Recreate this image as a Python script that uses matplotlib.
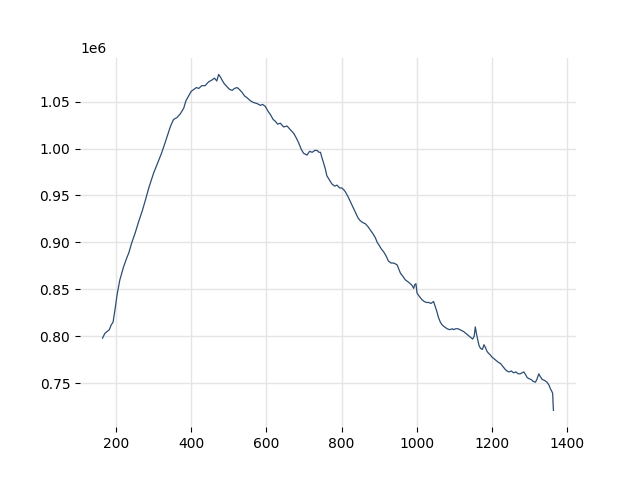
import matplotlib
matplotlib.use("Agg")
import matplotlib.pyplot as plt

# (x, y) pairs, y in units of 1e6
trace = [
    (164, 0.798), (170, 0.803), (176, 0.805), (182, 0.807), (187, 0.812),
    (192, 0.815), (197, 0.828), (203, 0.845), (210, 0.860), (220, 0.874),
    (228, 0.883), (234, 0.889), (242, 0.900), (250, 0.909), (260, 0.922),
    (270, 0.934), (278, 0.945), (287, 0.958), (300, 0.974), (313, 0.987),
    (320, 0.994), (327, 1.002), (336, 1.013), (345, 1.024), (353, 1.031),
    (362, 1.033), (371, 1.037), (380, 1.043), (386, 1.051), (393, 1.056),
    (400, 1.061), (407, 1.063), (414, 1.065), (420, 1.064), (428, 1.067),
    (437, 1.067), (446, 1.071), (455, 1.073), (462, 1.075), (468, 1.072),
    (473, 1.079), (478, 1.076), (482, 1.073), (488, 1.069), (495, 1.066),
    (502, 1.063), (509, 1.062), (515, 1.064), (522, 1.065), (528, 1.063),
    (535, 1.060), (542, 1.056), (549, 1.054), (557, 1.051), (566, 1.049),
    (575, 1.048), (584, 1.046), (590, 1.047), (597, 1.045), (604, 1.040),
    (611, 1.036), (618, 1.031), (624, 1.029), (630, 1.026), (637, 1.027),
    (646, 1.023), (655, 1.024), (664, 1.020), (673, 1.016), (680, 1.011),
    (686, 1.006), (693, 0.999), (699, 0.995), (708, 0.993), (715, 0.997),
    (722, 0.996), (729, 0.998), (735, 0.998), (740, 0.996), (744, 0.996),
    (748, 0.990), (752, 0.985), (757, 0.978), (761, 0.971), (767, 0.967),
    (775, 0.962), (782, 0.960), (788, 0.961), (795, 0.958), (801, 0.958),
    (806, 0.956), (810, 0.954), (817, 0.949), (824, 0.943), (830, 0.938),
    (837, 0.932), (844, 0.926), (850, 0.923), (857, 0.921), (863, 0.920),
    (870, 0.917), (877, 0.913), (884, 0.909), (890, 0.905), (895, 0.900),
    (900, 0.897), (906, 0.893), (912, 0.890), (918, 0.886), (925, 0.880),
    (932, 0.878), (939, 0.878), (944, 0.877), (948, 0.876), (952, 0.872),
    (957, 0.867), (963, 0.864), (970, 0.860), (977, 0.858), (983, 0.856),
    (988, 0.854), (992, 0.851), (995, 0.855), (998, 0.856), (1001, 0.846),
    (1006, 0.843), (1010, 0.841), (1014, 0.839), (1020, 0.837), (1026, 0.836),
    (1032, 0.836), (1038, 0.835), (1045, 0.837), (1049, 0.832), (1054, 0.826),
    (1058, 0.820), (1063, 0.815), (1068, 0.812), (1074, 0.810), (1081, 0.808),
    (1088, 0.807), (1095, 0.808), (1098, 0.807), (1104, 0.808), (1110, 0.808),
    (1115, 0.807), (1120, 0.806), (1125, 0.805), (1131, 0.803), (1137, 0.801),
    (1143, 0.799), (1149, 0.797), (1153, 0.800), (1156, 0.810), (1159, 0.803),
    (1162, 0.797), (1166, 0.790), (1170, 0.787), (1175, 0.786), (1179, 0.791),
    (1183, 0.788), (1187, 0.784), (1191, 0.782), (1196, 0.780), (1200, 0.778),
    (1206, 0.776), (1212, 0.774), (1218, 0.772), (1223, 0.771), (1229, 0.768),
    (1235, 0.765), (1240, 0.763), (1246, 0.762), (1252, 0.763), (1258, 0.761),
    (1264, 0.762), (1270, 0.760), (1276, 0.760), (1280, 0.761), (1285, 0.762),
    (1290, 0.759), (1294, 0.756), (1298, 0.755), (1304, 0.754), (1310, 0.752),
    (1316, 0.751), (1320, 0.754), (1325, 0.760), (1329, 0.757), (1334, 0.754),
    (1340, 0.753), (1347, 0.751), (1352, 0.748), (1356, 0.744), (1360, 0.741),
    (1362, 0.739), (1363, 0.728), (1364, 0.721),
]
x_vals = [p[0] for p in trace]
y_vals = [p[1] * 1e6 for p in trace]

fig, ax = plt.subplots(figsize=(6.4, 4.8), dpi=100)
ax.plot(x_vals, y_vals, color="#2c4c72", linewidth=0.9)
ax.grid(True, color="#e5e5e5", linewidth=1)
ax.set_axisbelow(True)
for s in ax.spines.values():
    s.set_visible(False)
ax.set_xticks([200, 400, 600, 800, 1000, 1200, 1400])
fig.savefig("out.png")
